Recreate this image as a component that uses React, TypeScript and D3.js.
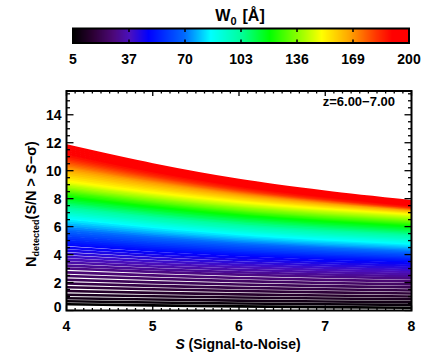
import React from "react";
import * as d3 from "d3";

// ---- data ----
const S_GRID = [4, 5, 6, 7, 8];
// fraction of the total S=4 -> S=8 drop reached at each S (curve shape)
const DROP_FRAC = [0, 0.34, 0.62, 0.83, 1];

const W0_VALUES = [
  5, 7.5, 10, 12.5, 15, 17.5, 20, 22.5, 25, 27.5, 30, 32.5, 35, 37.5, 40, 42.5, 45, 47.5, 50,
  52.5, 55, 57.5, 60, 62.5, 65, 67.5, 70, 72.5, 75, 77.5, 80, 82.5, 85, 87.5, 90, 92.5, 95,
  97.5, 100, 102.5, 105, 107.5, 110, 112.5, 115, 117.5, 120, 122.5, 125, 127.5, 130, 132.5,
  135, 137.5, 140, 142.5, 145, 147.5, 150, 152.5, 155, 157.5, 160, 162.5, 165, 167.5, 170,
  172.5, 175, 177.5, 180, 182.5, 185, 187.5, 190, 192.5, 195, 197.5, 200,
];

const N_AT_S4 = [
  0.45, 0.66, 0.88, 1.13, 1.4, 1.67, 1.93, 2.2, 2.47, 2.73, 3.0, 3.21, 3.43, 3.64, 3.85, 4.06,
  4.28, 4.49, 4.7, 4.84, 4.97, 5.11, 5.24, 5.38, 5.51, 5.65, 5.79, 5.92, 6.06, 6.19, 6.33, 6.46,
  6.6, 6.71, 6.83, 6.94, 7.06, 7.17, 7.29, 7.4, 7.51, 7.63, 7.74, 7.86, 7.97, 8.09, 8.2, 8.29,
  8.38, 8.48, 8.57, 8.66, 8.75, 8.84, 8.93, 9.03, 9.12, 9.21, 9.3, 9.43, 9.56, 9.7, 9.83, 9.96,
  10.09, 10.22, 10.33, 10.43, 10.54, 10.64, 10.75, 10.85, 10.96, 11.09, 11.23, 11.37, 11.52,
  11.66, 11.8,
];

const N_AT_S8 = [
  0.2, 0.4, 0.6, 0.8, 1.0, 1.22, 1.43, 1.65, 1.87, 2.08, 2.3, 2.45, 2.6, 2.75, 2.9, 3.05, 3.2,
  3.35, 3.5, 3.59, 3.69, 3.78, 3.87, 3.96, 4.06, 4.15, 4.24, 4.34, 4.43, 4.52, 4.61, 4.71, 4.8,
  4.89, 4.99, 5.08, 5.17, 5.26, 5.36, 5.45, 5.54, 5.64, 5.73, 5.82, 5.91, 6.01, 6.1, 6.17, 6.24,
  6.31, 6.38, 6.45, 6.53, 6.6, 6.67, 6.74, 6.81, 6.88, 6.95, 6.99, 7.04, 7.08, 7.12, 7.17, 7.21,
  7.25, 7.28, 7.3, 7.33, 7.36, 7.38, 7.41, 7.44, 7.49, 7.55, 7.62, 7.69, 7.75, 7.82,
];

const X_TICKS = [4, 5, 6, 7, 8];
const Y_TICKS = [0, 2, 4, 6, 8, 10, 12, 14];
const CB_TICK_LABELS = ["5", "37", "70", "103", "136", "169", "200"];
const W0_RANGE = [5, 200];

const CMAP_POS = [0, 0.06, 0.12, 0.17, 0.225, 0.33, 0.41, 0.5, 0.585, 0.665, 0.74, 0.82, 0.9, 0.95, 1];
const CMAP_COL = [
  "#000000", "#2c0034", "#4c0878", "#4a10c0", "#0000ff", "#0068ff", "#00ffff", "#00ff9c",
  "#00ff00", "#84ff00", "#ffff00", "#ffa800", "#ff3800", "#ff0000", "#ff0000",
];

const FONT = "'Liberation Sans', Arial, Helvetica, sans-serif";

export default function App() {
  const W = 436;
  const H = 363;
  const plot = { left: 66.5, right: 411.5, top: 91, bottom: 310.5 };
  const x = d3.scaleLinear().domain([4, 8]).range([plot.left, plot.right]);
  const y = d3.scaleLinear().domain([0, 15.7]).range([plot.bottom, plot.top]);

  const cmap = d3.scaleLinear<string>().domain(CMAP_POS).range(CMAP_COL).interpolate(d3.interpolateRgb).clamp(true);
  const wNorm = d3.scaleLinear().domain(W0_RANGE).range([0, 1]);
  const colorOf = (w: number) => cmap(wNorm(w));

  const line = d3
    .line<[number, number]>()
    .x((d) => x(d[0]))
    .y((d) => y(d[1]))
    .curve(d3.curveMonotoneX);

  const curves = W0_VALUES.map((w, i) => {
    const pts: [number, number][] = S_GRID.map((s, j) => [
      s,
      N_AT_S4[i] - DROP_FRAC[j] * (N_AT_S4[i] - N_AT_S8[i]),
    ]);
    return { w, d: line(pts) || "" };
  });

  // colorbar
  const cb = { left: 73, right: 409, top: 28.5, bottom: 43 };
  const cbx = d3.scaleLinear().domain(W0_RANGE).range([cb.left, cb.right]);
  const cbSteps = d3.range(cb.left, cb.right, 1);
  const cbTickPos = CB_TICK_LABELS.map((_, i) =>
    cbx(W0_RANGE[0] + (i * (W0_RANGE[1] - W0_RANGE[0])) / (CB_TICK_LABELS.length - 1))
  );

  const xMinor = d3.range(40, 81).map((v) => v / 10);
  const yMinor = d3.range(0, 32).map((v) => v / 2).filter((v) => v <= 15.7);
  const majLenX = 5;
  const minLenX = 2.5;
  const majLenY = 7;
  const minLenY = 3.5;

  return (
    <svg width={W} height={H} style={{ position: "absolute", left: 0, top: 0 }} fontFamily={FONT}>
      <rect x={0} y={0} width={W} height={H} fill="#ffffff" />

      {/* colorbar */}
      {cbSteps.map((px) => (
        <rect
          key={px}
          x={px}
          y={cb.top}
          width={1.2}
          height={cb.bottom - cb.top}
          fill={colorOf(cbx.invert(px + 0.5))}
        />
      ))}
      <rect
        x={cb.left}
        y={cb.top}
        width={cb.right - cb.left}
        height={cb.bottom - cb.top}
        fill="none"
        stroke="#000"
        strokeWidth={2}
      />
      {cbTickPos.map((px, i) => (
        <g key={i}>
          <line x1={px} x2={px} y1={cb.top} y2={cb.top + 3.5} stroke="#000" strokeWidth={1.5} />
          <line x1={px} x2={px} y1={cb.bottom} y2={cb.bottom - 3.5} stroke="#000" strokeWidth={1.5} />
          <text x={px} y={64} fontSize={14} fontWeight="bold" textAnchor="middle">
            {CB_TICK_LABELS[i]}
          </text>
        </g>
      ))}
      <text x={240} y={21} fontSize={16} fontWeight="bold" textAnchor="middle">
        W<tspan fontSize={11} dy={4}>0</tspan>
        <tspan dy={-4} dx={6}>[Å]</tspan>
      </text>

      {/* curves */}
      <defs>
        <clipPath id="plotclip">
          <rect x={plot.left} y={plot.top} width={plot.right - plot.left} height={plot.bottom - plot.top} />
        </clipPath>
      </defs>
      <g clipPath="url(#plotclip)">
        {curves.map((c) => (
          <path key={c.w} d={c.d} fill="none" stroke={colorOf(c.w)} strokeWidth={2.6} />
        ))}
      </g>

      {/* axes box */}
      <rect
        x={plot.left}
        y={plot.top}
        width={plot.right - plot.left}
        height={plot.bottom - plot.top}
        fill="none"
        stroke="#000"
        strokeWidth={2}
      />
      {xMinor.map((v) => {
        const isMaj = Math.abs(v - Math.round(v)) < 1e-6;
        const len = isMaj ? majLenX : minLenX;
        return (
          <g key={"xm" + v}>
            <line x1={x(v)} x2={x(v)} y1={plot.bottom} y2={plot.bottom - len} stroke="#000" strokeWidth={1.3} />
            <line x1={x(v)} x2={x(v)} y1={plot.top} y2={plot.top + len} stroke="#000" strokeWidth={1.3} />
          </g>
        );
      })}
      {yMinor.map((v) => {
        const isMaj = Math.abs(v / 2 - Math.round(v / 2)) < 1e-6;
        const len = isMaj ? majLenY : minLenY;
        return (
          <g key={"ym" + v}>
            <line x1={plot.left} x2={plot.left + len} y1={y(v)} y2={y(v)} stroke="#000" strokeWidth={1.3} />
            <line x1={plot.right} x2={plot.right - len} y1={y(v)} y2={y(v)} stroke="#000" strokeWidth={1.3} />
          </g>
        );
      })}
      {X_TICKS.map((v) => (
        <text key={"xl" + v} x={x(v)} y={331} fontSize={14} fontWeight="bold" textAnchor="middle">
          {v}
        </text>
      ))}
      {Y_TICKS.map((v) => (
        <text
          key={"yl" + v}
          x={plot.left - 5}
          y={y(v) + (v === 0 ? -4 : 0)}
          dy="0.36em"
          fontSize={14}
          fontWeight="bold"
          textAnchor="end"
        >
          {v}
        </text>
      ))}

      {/* axis titles */}
      <text x={238} y={349} fontSize={14} fontWeight="bold" textAnchor="middle">
        <tspan fontStyle="italic">S</tspan> (Signal-to-Noise)
      </text>
      <text transform="translate(36,204) rotate(-90)" fontSize={14.5} fontWeight="bold" textAnchor="middle">
        N<tspan fontSize={9} dy={3}>detected</tspan>
        <tspan dy={-3}>(S/N &gt; </tspan>
        <tspan fontStyle="italic">S</tspan>
        <tspan>−σ)</tspan>
      </text>

      <text x={395} y={106} fontSize={13} fontWeight="bold" textAnchor="end">
        z=6.00−7.00
      </text>
    </svg>
  );
}
